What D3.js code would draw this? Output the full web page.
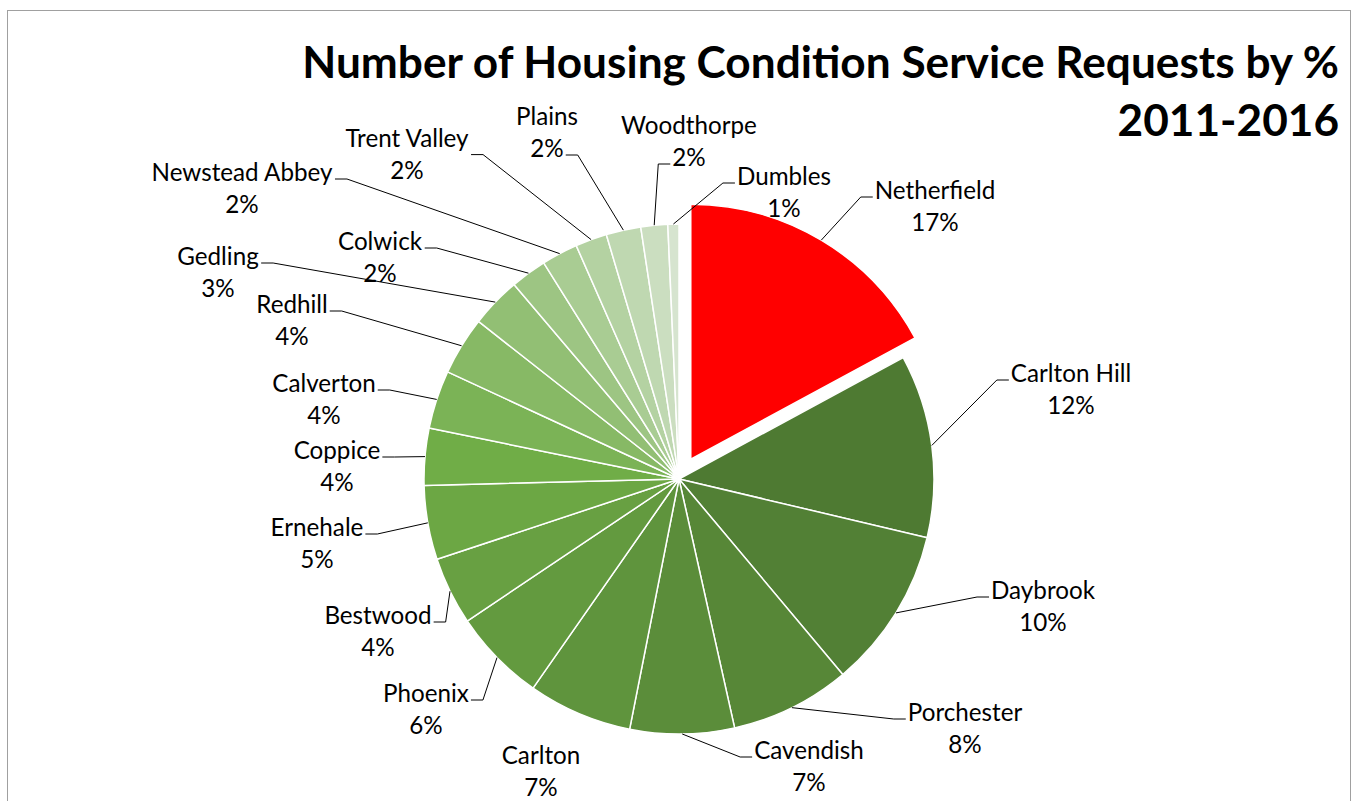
<!DOCTYPE html>
<html>
<head>
<meta charset="utf-8">
<script src="https://cdn.jsdelivr.net/npm/d3@7"></script>
<style>
  html, body { margin: 0; padding: 0; background: #ffffff; }
  svg { display: block; }
</style>
</head>
<body>
<svg id="chart" width="1356" height="801"></svg>
<script>
// Wards, in the order they run clockwise from 12 o'clock
const categories = [
  "Netherfield", "Carlton Hill", "Daybrook", "Porchester", "Cavendish",
  "Carlton", "Phoenix", "Bestwood", "Ernehale", "Coppice", "Calverton",
  "Redhill", "Gedling", "Colwick", "Newstead Abbey", "Trent Valley",
  "Plains", "Woodthorpe", "Dumbles"
];

// Share of service requests (%) per ward
const shares = [
  17.1, 11.6, 10.2, 7.6, 6.6,
  6.6, 5.9, 4.3, 4.7, 3.6, 3.7,
  3.7, 3.2, 2.3, 2.3, 2.0,
  2.2, 1.7, 0.7
];

const titleLines = ["Number of Housing Condition Service Requests by %", "2011-2016"];

// Highlighted ward
const highlight = "Netherfield";

// Label placement: [centre x, name baseline y, leader side, leader row]
const labelLayout = [
  [935, 199, "L", 0],
  [1071, 382, "L", 0],
  [1043, 599, "L", 0],
  [965, 721, "L", 0],
  [809, 759, "L", 0],
  [541, 764, null, 0],
  [426, 702, "R", 0],
  [378, 624, "R", 0],
  [317, 536, "R", 0],
  [337, 459, "R", 0],
  [324, 392, "R", 0],
  [292, 313, "R", 0],
  [218, 265, "R", 0],
  [380, 250, "R", 0],
  [242, 181, "R", 0],
  [407, 147, "R", 0.3],
  [547, 125, "R", 1],
  [689, 134, "L", 1],
  [784, 185, "L", 0]
];

const svg = d3.select("#chart");
const cx = 679, cy = 479, R = 255, explode = 23;
const lineGap = 32;

// chart frame
svg.append("rect")
  .attr("x", 7.5).attr("y", 10.5)
  .attr("width", 1343).attr("height", 820)
  .attr("fill", "#ffffff")
  .attr("stroke", "#a0a0a0")
  .attr("stroke-width", 1);

// font sizing helper: size that gives a text the wanted width
function fitSize(text, family, weight, targetWidth) {
  const t = svg.append("text")
    .attr("font-family", family).attr("font-weight", weight)
    .attr("font-size", 100).text(text);
  const w = t.node().getComputedTextLength();
  t.remove();
  return 100 * targetWidth / w;
}
const FONT = "Lato, 'Open Sans', 'DejaVu Sans', sans-serif";
const titleSize = fitSize(titleLines[0], FONT, 700, 1037);
const labelSize = fitSize("Newstead Abbey", FONT, 400, 181);

// title
const title = svg.append("text")
  .attr("font-family", FONT).attr("font-weight", 700)
  .attr("font-size", titleSize)
  .attr("fill", "#000000")
  .attr("text-anchor", "end");
titleLines.forEach((line, i) => {
  title.append("tspan").attr("x", 1339).attr("y", 78 + i * 58).text(line);
});

// pie
const total = d3.sum(shares);
const pie = d3.pie().sort(null).value(d => d.value)
  .startAngle(0).endAngle(2 * Math.PI);
const data = categories.map((name, i) => ({ name, value: shares[i], i }));
const arcs = pie(data);
const arc = d3.arc().innerRadius(0).outerRadius(R);

const color = d3.scaleLinear()
  .domain([1, 9, categories.length - 1])
  .range(["#4e7a32", "#70ad47", "#d6e4cf"])
  .interpolate(d3.interpolateRgb);

function offsetOf(d) {
  if (d.data.name !== highlight) return [0, 0];
  const a = (d.startAngle + d.endAngle) / 2;
  return [explode * Math.sin(a), -explode * Math.cos(a)];
}

const g = svg.append("g").attr("transform", `translate(${cx},${cy})`);
g.selectAll("path.slice")
  .data(arcs)
  .join("path")
  .attr("class", "slice")
  .attr("transform", d => { const o = offsetOf(d); return `translate(${o[0]},${o[1]})`; })
  .attr("d", arc)
  .attr("fill", d => d.data.name === highlight ? "#ff0000" : color(d.index))
  .attr("stroke", "#ffffff")
  .attr("stroke-width", 1.5)
  .attr("stroke-linejoin", "round");

// labels and leader lines
const labelG = svg.append("g")
  .attr("font-family", FONT)
  .attr("font-size", labelSize)
  .attr("fill", "#000000");

arcs.forEach((d, i) => {
  const [lx, ly, side, row] = labelLayout[i];
  const pct = Math.round(d.data.value / total * 100) + "%";
  const nameT = labelG.append("text").attr("x", lx).attr("y", ly)
    .attr("text-anchor", "middle").text(d.data.name);
  const pctT = labelG.append("text").attr("x", lx).attr("y", ly + lineGap)
    .attr("text-anchor", "middle").text(pct);
  if (!side) return;

  const ref = row >= 1 ? pctT : nameT;
  const bb = ref.node().getBBox();
  const ay = ly + row * lineGap - 2;
  const edge = side === "L" ? bb.x - 2 : bb.x + bb.width + 2;
  const elbow = side === "L" ? edge - 12 : edge + 12;

  const a = (d.startAngle + d.endAngle) / 2;
  const o = offsetOf(d);
  const px = cx + o[0] + R * Math.sin(a);
  const py = cy + o[1] - R * Math.cos(a);

  svg.append("path")
    .attr("d", d3.line()([[px, py], [elbow, ay], [edge, ay]]))
    .attr("fill", "none")
    .attr("stroke", "#000000")
    .attr("stroke-width", 1);
});
</script>
</body>
</html>
